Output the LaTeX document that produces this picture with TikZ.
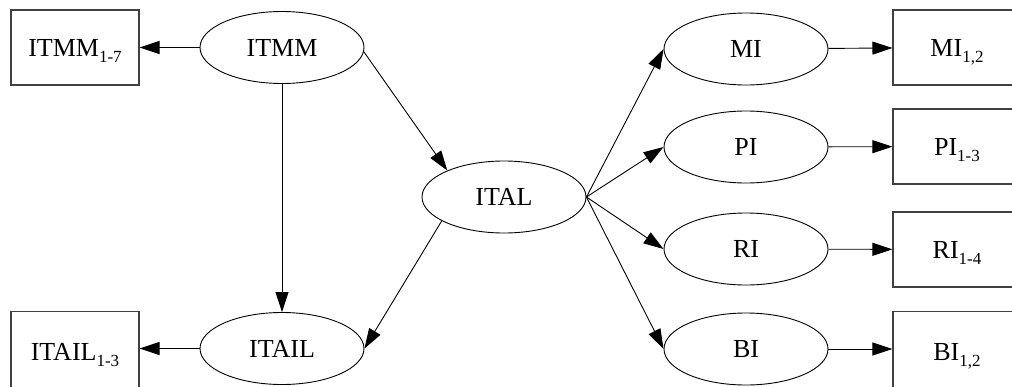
\documentclass[tikz,border=0pt]{standalone}
\usepackage{fontspec}
\setmainfont{Liberation Serif}
\usetikzlibrary{arrows.meta,shapes.geometric}
\newcommand{\sbs}[1]{\smash{\raisebox{-6pt}{\fontsize{17}{17}\selectfont #1}}}
\begin{document}
\begin{tikzpicture}[x=1pt,y=-1pt,
  lat/.style={ellipse, draw, line width=0.9pt, minimum width=164pt, minimum height=72pt, inner sep=0pt, font=\fontsize{26}{26}\selectfont},
  obs/.style={rectangle, draw=black!75, line width=1.1pt, minimum width=128pt, minimum height=75pt, inner sep=0pt, font=\fontsize{26}{26}\selectfont},
  arr/.style={-{Triangle[length=20pt,width=13pt]}, line width=0.9pt}]
\useasboundingbox (0,0) rectangle (1012,386);
\clip (0,0) rectangle (1012,386);
% latent nodes
\node[lat] (itmm) at (282,47.5) {ITMM};
\node[lat] (itail) at (282,348.5) {ITAIL};
\node[lat] (ital) at (504,197) {ITAL};
\node[lat] (mi) at (746,49) {MI};
\node[lat] (pi) at (746,147) {PI};
\node[lat] (ri) at (746,249) {RI};
\node[lat] (bi) at (746,349) {BI};
% observed boxes (bottom ones run off the lower edge)
\node[obs] (itmmo) at (75,47.5) {ITMM\sbs{1-7}};
\node[obs, text depth=0pt, minimum height=80pt, anchor=north] (itailo) at (75,311) {ITAIL\sbs{1-3}};
\node[obs] (mio) at (957,47.5) {MI\sbs{1,2}};
\node[obs] (pio) at (957,146.5) {PI\sbs{1-3}};
\node[obs] (rio) at (957,249.5) {RI\sbs{1-4}};
\node[obs, minimum height=80pt, anchor=north] (bio) at (957,311) {BI\sbs{1,2}};
% connectors
\draw[arr] (itmm) -- (itmmo);
\draw[arr] (itail.west) -- (itailo.east |- itail.west);
\draw[arr] (itmm.south) -- (itail.north);
\draw[arr] (itmm.-3) -- (ital.155);
\draw[arr] (ital.201) -- (itail.east);
\draw[arr] (ital.east) -- (mi.west);
\draw[arr] (ital.east) -- (pi.west);
\draw[arr] (ital.east) -- (ri.west);
\draw[arr] (ital.east) -- (bi.west);
\draw[arr] (mi) -- (mio);
\draw[arr] (pi) -- (pio);
\draw[arr] (ri) -- (rio);
\draw[arr] (bi.east) -- (bio.west |- bi.east);
\end{tikzpicture}
\end{document}
